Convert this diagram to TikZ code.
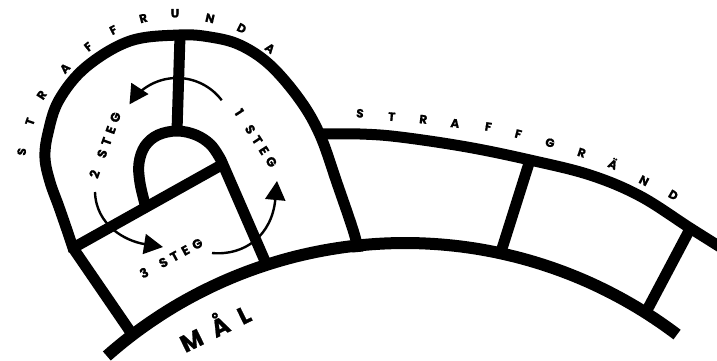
\documentclass[tikz,border=0pt]{standalone}
\usepackage{fontspec}
\setmainfont{Poppins}
\usetikzlibrary{arrows.meta}
\newcommand\lgap{\hspace{5pt}}
\begin{document}
\begin{tikzpicture}[x=1pt,y=-1pt,
  road/.style={line width=11pt, line join=round},
  flow/.style={line width=2.4pt, -{Triangle[length=19pt,width=20pt]}},
  roadname/.style={font=\bfseries\fontsize{12}{12}\selectfont\addfontfeature{FakeBold=0.8}, inner sep=0pt},
  steglab/.style={font=\bfseries\fontsize{13}{13}\selectfont\addfontfeature{FakeBold=0.8}, inner sep=0pt},
  goal/.style={font=\bfseries\fontsize{24}{24}\selectfont\addfontfeature{FakeBold=0.8}, inner sep=0pt}]
\useasboundingbox (0,0) rectangle (717,361);

% junctions
\coordinate (jL) at (73,248);
\coordinate (jTop) at (180,36);
\coordinate (jUtop) at (177,131);
\coordinate (jUr) at (225,163);
\coordinate (jUb) at (268,268);
\coordinate (jLb) at (134,337);
\coordinate (s2t) at (530,160);
\coordinate (s2b) at (500,255);
\coordinate (s3t) at (690,229);
\coordinate (s3b) at (645,314);

% goal arc (MÅL)
\draw[road, line width=12pt] plot[domain=131.5:52.8, samples=90] ({405+450*cos(\x)},{693-450*sin(\x)});

% outer loop (straffrunda)
\draw[road] plot[smooth, tension=0.6] coordinates {(74,251) (68,233) (59,207) (50,182) (45,158) (48,133) (59,100) (86,67) (130,41) (179,35) (210,37) (240,45) (270,65) (300,100) (320,135) (337,183) (354,233) (358,252)};

% outer edge of straffgränd
\draw[road] plot[smooth, tension=0.6] coordinates {(318,134) (360,134) (400,137) (467,147) (530,160) (590,175) (640,196) (690,228) (725,250)};

% inner U
\draw[road] plot[smooth, tension=0.6] coordinates {(146,208) (140,183) (139,163) (145,146) (158,135) (177,131) (196,135) (211,145) (221,160)} -- (jUb);

% spokes
\draw[road] (jTop) -- (jUtop);
\draw[road] (jL) -- (jUr);
\draw[road] (jL) -- (jLb);
\draw[road] (s2t) -- (s2b);
\draw[road] (s3t) -- (s3b);

% arrows
\coordinate (a2s) at (95,192);
\coordinate (a2e) at (163,247);
\coordinate (a3s) at (212,253);
\coordinate (a3e) at (277,181);
\draw[flow] plot[domain=37:148, samples=50] ({177+56*cos(\x)},{134-56*sin(\x)});
\draw[flow] (a2s) .. controls (96,225) and (125,241) .. (a2e);
\draw[flow] (a3s) .. controls (245,256) and (272,235) .. (a3e);

% step labels
\node[steglab, rotate=70] (t2) at (105,145) {2\hspace{14pt}S\lgap T\lgap E\lgap G};
\node[steglab, rotate=-57] (t1) at (256,138) {1\hspace{14pt}S\lgap T\lgap E\lgap G};
\node[steglab, rotate=28.7] (t3) at (171,258) {3\hspace{14pt}S\lgap T\lgap E\lgap G};
\node[goal, rotate=26] (mal) at (214,326) {M\hspace{12pt}Å\hspace{12pt}L};

% STRAFFRUNDA
\foreach \ch/\px/\py/\r [count=\i] in {S/21.7/151.7/82, T/30/121.7/70.6, R/41.7/95/56.8, A/65/68.3/46, F/88.3/46.7/38.4, F/113.3/30/27.3, R/143.3/18.3/15.1, U/175/13.3/0, N/210/18.3/-12.7, D/241.7/28.3/-26.6, A/270/48.3/-37}
  \node[roadname, rotate=\r] (sr\i) at (\px,\py) {\ch};

% STRAFFGRÄND
\foreach \ch/\px/\py/\r [count=\i] in {S/360/113.3/-6, T/391.7/116.7/-5.4, R/423.3/119.3/-6, A/455/123.3/-6.5, F/488.3/126.7/-9.6, F/518.3/134/-14.5, G/550/142.7/-16.4, R/581.7/152.7/-18, Ä/613.3/163.3/-24.2, N/644/180.7/-27.8, D/673.3/195/-30}
  \node[roadname, rotate=\r] (sg\i) at (\px,\py) {\ch};
\end{tikzpicture}
\end{document}
